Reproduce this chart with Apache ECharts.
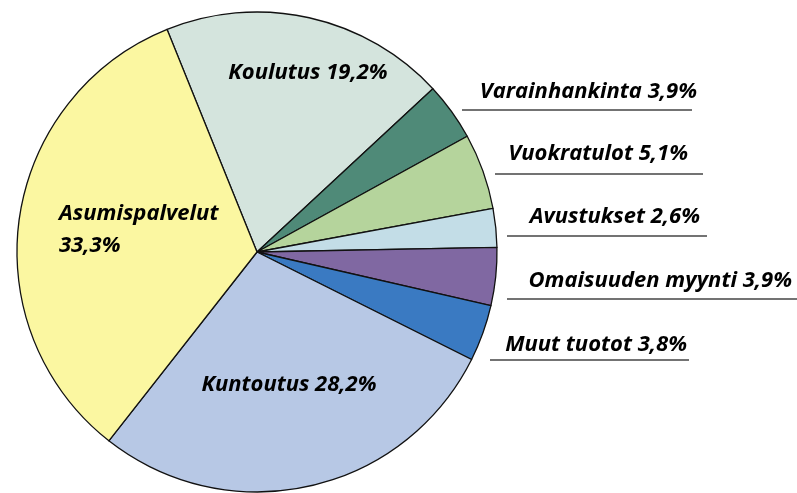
<!DOCTYPE html>
<html>
<head>
<meta charset="utf-8">
<script src="https://cdn.jsdelivr.net/npm/echarts@6/dist/echarts.min.js"></script>
<style>
  html, body { margin: 0; padding: 0; background: #fff; }
  #main { width: 797px; height: 493px; }
</style>
</head>
<body>
<div id="main"></div>
<script>
// slices, clockwise from the top-left edge
const categories = ['Koulutus', 'Varainhankinta', 'Vuokratulot', 'Avustukset',
    'Omaisuuden myynti', 'Muut tuotot', 'Kuntoutus', 'Asumispalvelut'];
const shares = [19.2, 3.9, 5.1, 2.6, 3.9, 3.8, 28.2, 33.3];
const colors = ['#d4e4dd', '#4f8a78', '#b5d49c', '#c3dde7',
    '#8068a2', '#3a7ac2', '#b7c8e5', '#fbf7a1'];

// where each label sits (text anchor + underline for the outside ones)
const labelPlaces = [
    { x: 308, y: 73, align: 'center' },
    { x: 697, y: 92, align: 'right', line: [462, 692, 110] },
    { x: 688, y: 154, align: 'right', line: [495, 703, 174] },
    { x: 700, y: 217, align: 'right', line: [507, 707, 236] },
    { x: 792, y: 281, align: 'right', line: [507, 797, 299] },
    { x: 687, y: 345, align: 'right', line: [490, 689, 360] },
    { x: 289, y: 385, align: 'center' },
    { x: 59, y: 230, align: 'left' }
];

const fmt = v => v.toFixed(1).replace('.', ',') + '%';

const chart = echarts.init(document.getElementById('main'));

const data = categories.map((name, i) => {
    const inside = !labelPlaces[i].line;
    return {
        name: name,
        value: shares[i],
        itemStyle: { color: colors[i] },
        labelLine: { show: !inside }
    };
});

const option = {
    animation: false,
    series: [
        {
            type: 'pie',
            center: [257, 252],
            radius: 240,
            startAngle: 112,
            clockwise: true,
            avoidLabelOverlap: false,
            itemStyle: {
                borderColor: '#111',
                borderWidth: 1.3
            },
            label: {
                show: true,
                position: 'outside',
                fontFamily: 'Open Sans',
                fontStyle: 'italic',
                fontWeight: 'bold',
                fontSize: 22,
                lineHeight: 32,
                color: '#000',
                formatter: p => p.name === 'Asumispalvelut'
                    ? p.name + '\n' + fmt(p.value)
                    : p.name + ' ' + fmt(p.value)
            },
            labelLine: {
                show: true,
                lineStyle: { color: '#444', width: 1.5 }
            },
            labelLayout: params => {
                const pl = labelPlaces[params.dataIndex];
                const out = {
                    x: pl.x,
                    y: pl.y,
                    align: pl.align,
                    verticalAlign: 'middle'
                };
                if (pl.line) {
                    out.labelLinePoints = [
                        [pl.line[0], pl.line[2]],
                        [pl.line[0], pl.line[2]],
                        [pl.line[1], pl.line[2]]
                    ];
                }
                return out;
            },
            data: data
        }
    ]
};

chart.setOption(option);
</script>
</body>
</html>
